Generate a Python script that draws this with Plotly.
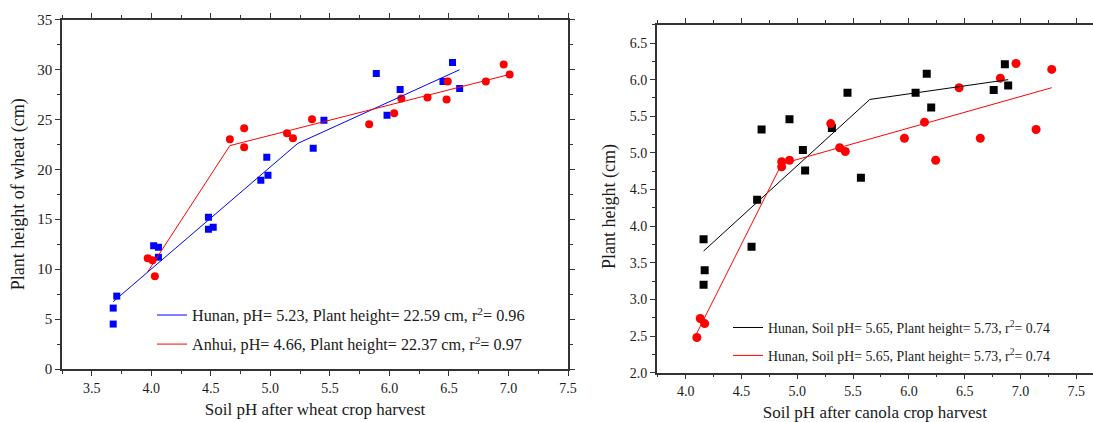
import plotly.graph_objects as go

# ---------------- Left panel: wheat ----------------
hunan_w_ph = [3.68, 3.68, 3.71, 4.02, 4.06, 4.06, 4.48, 4.48, 4.52, 4.92, 4.97, 4.98,
              5.36, 5.45, 5.89, 5.98, 6.09, 6.45, 6.53, 6.59]
hunan_w_h = [6.1, 4.5, 7.3, 12.35, 12.2, 11.2, 15.2, 14.0, 14.2, 18.9, 21.2, 19.4,
             22.1, 24.9, 29.6, 25.4, 28.0, 28.8, 30.7, 28.1]
anhui_w_ph = [3.97, 4.01, 4.03, 4.66, 4.78, 4.78, 5.14, 5.19, 5.35, 5.83, 6.04, 6.10,
              6.32, 6.48, 6.49, 6.81, 6.96, 7.01]
anhui_w_h = [11.1, 10.9, 9.3, 23.0, 24.1, 22.2, 23.6, 23.1, 25.0, 24.5, 25.6, 27.1,
             27.2, 27.0, 28.8, 28.8, 30.5, 29.5]
hunan_w_fit_ph = [3.68, 5.23, 6.59]
hunan_w_fit_h = [6.74, 22.59, 29.97]
anhui_w_fit_ph = [3.97, 4.66, 7.01]
anhui_w_fit_h = [9.74, 22.37, 29.5]
wheat_labels = ["Hunan, pH= 5.23, Plant height= 22.59 cm, r<sup>2</sup>= 0.96",
                "Anhui, pH= 4.66, Plant height= 22.37 cm, r<sup>2</sup>= 0.97"]

# ---------------- Right panel: canola ----------------
black_c_ph = [4.16, 4.17, 4.16, 4.59, 4.64, 4.68, 4.93, 5.05, 5.07, 5.31, 5.45, 5.57,
              6.06, 6.16, 6.20, 6.76, 6.86, 6.89]
black_c_h = [3.82, 3.40, 3.20, 3.72, 4.36, 5.32, 5.46, 5.04, 4.76, 5.34, 5.82, 4.66,
             5.82, 6.08, 5.62, 5.86, 6.21, 5.92]
red_c_ph = [4.10, 4.13, 4.17, 4.86, 4.86, 4.93, 5.30, 5.38, 5.43, 5.96, 6.14, 6.24,
            6.45, 6.64, 6.82, 6.96, 7.14, 7.28]
red_c_h = [2.48, 2.74, 2.67, 4.88, 4.81, 4.90, 5.40, 5.07, 5.02, 5.20, 5.42, 4.90,
           5.89, 5.20, 6.02, 6.22, 5.32, 6.14]
black_c_fit_ph = [4.16, 5.65, 6.89]
black_c_fit_h = [3.66, 5.73, 6.00]
red_c_fit_ph = [4.10, 4.86, 7.28]
red_c_fit_h = [2.54, 4.85, 5.89]
canola_labels = ["Hunan, Soil pH= 5.65, Plant height= 5.73, r<sup>2</sup>= 0.74",
                 "Hunan, Soil pH= 5.65, Plant height= 5.73, r<sup>2</sup>= 0.74"]

FONT = "Liberation Serif"
TXT = "#1a1a1a"
AX = "#333333"

fig = go.Figure()

# left panel
fig.add_trace(go.Scatter(x=hunan_w_ph, y=hunan_w_h, mode="markers", showlegend=False,
                         marker=dict(symbol="square", size=7, color="#0000ff"),
                         xaxis="x", yaxis="y"))
fig.add_trace(go.Scatter(x=anhui_w_ph, y=anhui_w_h, mode="markers", showlegend=False,
                         marker=dict(symbol="circle", size=8, color="#ff0000"),
                         xaxis="x", yaxis="y"))
fig.add_trace(go.Scatter(x=hunan_w_fit_ph, y=hunan_w_fit_h, mode="lines", name=wheat_labels[0],
                         line=dict(color="#0000ff", width=1), legend="legend", legendgroup="a",
                         xaxis="x", yaxis="y"))
fig.add_trace(go.Scatter(x=anhui_w_fit_ph, y=anhui_w_fit_h, mode="lines", name=wheat_labels[1],
                         line=dict(color="#ff0000", width=1), legend="legend", legendgroup="b",
                         xaxis="x", yaxis="y"))

# right panel
fig.add_trace(go.Scatter(x=black_c_ph, y=black_c_h, mode="markers", showlegend=False,
                         marker=dict(symbol="square", size=8, color="#000000"),
                         xaxis="x2", yaxis="y2"))
fig.add_trace(go.Scatter(x=red_c_ph, y=red_c_h, mode="markers", showlegend=False,
                         marker=dict(symbol="circle", size=9, color="#ff0000"),
                         xaxis="x2", yaxis="y2"))
fig.add_trace(go.Scatter(x=black_c_fit_ph, y=black_c_fit_h, mode="lines", name=canola_labels[0],
                         line=dict(color="#000000", width=1), legend="legend2", legendgroup="c",
                         xaxis="x2", yaxis="y2"))
fig.add_trace(go.Scatter(x=red_c_fit_ph, y=red_c_fit_h, mode="lines", name=canola_labels[1],
                         line=dict(color="#ff0000", width=1), legend="legend2", legendgroup="d",
                         xaxis="x2", yaxis="y2"))

W, H = 1093, 422

def xa(domain, rng, title, mirror, anchor):
    return dict(domain=domain, range=rng, anchor=anchor, dtick=0.5, tick0=0, automargin=False,
                showgrid=False, zeroline=False, showline=True, linecolor=AX, linewidth=1.5,
                mirror=mirror, ticks="outside", ticklen=5, tickwidth=1, tickcolor=AX,
                tickformat=".1f",
                minor=dict(dtick=0.25, tick0=0, ticks="outside", ticklen=3, tickcolor=AX),
                tickfont=dict(family=FONT, size=14, color=TXT),
                title=dict(text=title, font=dict(family=FONT, size=17, color=TXT), standoff=9))

def ya(domain, rng, dtick, minor, title, mirror, anchor, fmt, size=15):
    return dict(domain=domain, range=rng, anchor=anchor, dtick=dtick, tick0=0, automargin=False,
                showgrid=False, zeroline=False, showline=True, linecolor=AX, linewidth=1.5,
                mirror=mirror, ticks="outside", ticklen=5, tickwidth=1, tickcolor=AX,
                tickformat=fmt,
                minor=dict(dtick=minor, tick0=0, ticks="outside", ticklen=3, tickcolor=AX),
                tickfont=dict(family=FONT, size=size, color=TXT),
                title=dict(text=title, font=dict(family=FONT, size=18, color=TXT), standoff=8))

fig.update_layout(
    width=W, height=H,
    margin=dict(l=0, r=0, t=0, b=0, autoexpand=False),
    paper_bgcolor="white", plot_bgcolor="white",
    xaxis=xa([62 / W, 568 / W], [3.25, 7.5], "Soil pH after wheat crop harvest", "ticks", "y"),
    yaxis=ya([(H - 369) / H, (H - 19.5) / H], [0, 35], 5, 2.5,
             "Plant height of wheat (cm)", "ticks", "x", "d"),
    xaxis2=xa([656.7 / W, 1.0], [3.74, 7.65], "Soil pH after canola crop harvest", "ticks", "y2"),
    yaxis2=ya([(H - 372.7) / H, (H - 24.7) / H], [2.0, 6.75], 0.5, 0.25,
              "", False, "x2", ".1f", 14),
    legend=dict(x=152 / W, xanchor="left", y=1 - 298 / H, yanchor="top",
                bgcolor="rgba(0,0,0,0)", borderwidth=0, tracegroupgap=5,
                font=dict(family=FONT, size=16.2, color=TXT)),
    legend2=dict(x=728 / W, xanchor="left", y=1 - 312 / H, yanchor="top",
                 bgcolor="rgba(0,0,0,0)", borderwidth=0, tracegroupgap=7,
                 font=dict(family=FONT, size=13.8, color=TXT)),
    showlegend=True,
    annotations=[dict(text="Plant height (cm)", textangle=-90, showarrow=False,
                      xref="paper", yref="paper", x=609 / W, y=1 - 207 / H,
                      xanchor="center", yanchor="middle",
                      font=dict(family=FONT, size=18, color=TXT))],
)

fig.write_html("out.html", config={"displayModeBar": False},
               post_script="document.body.style.margin='0';document.body.style.overflow='hidden';")
